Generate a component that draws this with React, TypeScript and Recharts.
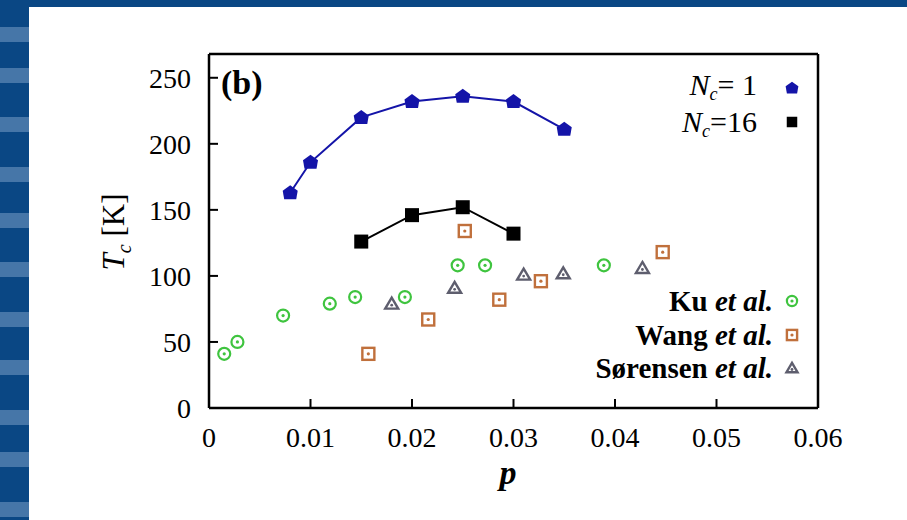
import React from 'react';
import { ScatterChart, Scatter, XAxis, YAxis, Legend, Label } from 'recharts';

// ---- data ----
const nc1P = [0.008, 0.01, 0.015, 0.02, 0.025, 0.03, 0.035];
const nc1T = [163, 186, 220, 232, 236, 232, 211];
const nc16P = [0.015, 0.02, 0.025, 0.03];
const nc16T = [126, 146, 152, 132];
const kuP = [0.0015, 0.0028, 0.0073, 0.0119, 0.0144, 0.0193, 0.0245, 0.0272, 0.0389];
const kuT = [41, 50, 70, 79, 84, 84, 108, 108, 108];
const wangP = [0.0157, 0.0216, 0.0252, 0.0286, 0.0327, 0.0447];
const wangT = [41, 67, 134, 82, 96, 118];
const sorP = [0.018, 0.0242, 0.031, 0.0349, 0.0427];
const sorT = [79, 91, 101, 102, 106];
const xTicks = [0, 0.01, 0.02, 0.03, 0.04, 0.05, 0.06];
const yTicks = [0, 50, 100, 150, 200, 250];
const legendLabels = ['Ku', 'Wang', 'Sørensen'];

const zip = (ps: number[], ts: number[]) => ps.map((p, i) => ({ p, t: ts[i] }));
const nc1Data = zip(nc1P, nc1T);
const nc16Data = zip(nc16P, nc16T);
const kuData = zip(kuP, kuT);
const wangData = zip(wangP, wangT);
const sorData = zip(sorP, sorT);

// ---- styles ----
const SERIF = "'Liberation Serif', 'Times New Roman', serif";
const BLUE = '#1414a8';
const GREEN = '#3fc43f';
const ORANGE = '#c0703c';
const GREY = '#5e5e6e';
const STRIPE_DARK = '#0a4784';
const STRIPE_LIGHT = '#4676a8';
const stripeTops = [27, 68, 117, 167, 213, 262, 312, 360, 410, 452, 502];

// ---- marker shapes ----
const Pentagon = ({ cx, cy, s = 1 }: any) => (
  <polygon
    points={`${cx},${cy - 7.5 * s} ${cx + 7.5 * s},${cy - 2 * s} ${cx + 6 * s},${cy + 6.5 * s} ${cx - 6 * s},${cy + 6.5 * s} ${cx - 7.5 * s},${cy - 2 * s}`}
    fill={BLUE}
  />
);
const FilledSquare = ({ cx, cy, s = 1 }: any) => (
  <rect x={cx - 7 * s} y={cy - 7 * s} width={14 * s} height={14 * s} fill="#000" />
);
const DotCircle = ({ cx, cy, s = 1 }: any) => (
  <g>
    <circle cx={cx} cy={cy} r={6 * s} fill="none" stroke={GREEN} strokeWidth={2.2} />
    <circle cx={cx} cy={cy} r={1.6} fill={GREEN} />
  </g>
);
const DotSquare = ({ cx, cy, s = 1 }: any) => (
  <g>
    <rect x={cx - 6 * s} y={cy - 6 * s} width={12 * s} height={12 * s} fill="none" stroke={ORANGE} strokeWidth={2.4} />
    <circle cx={cx} cy={cy} r={1.6} fill={ORANGE} />
  </g>
);
const Triangle = ({ cx, cy, s = 1 }: any) => (
  <g>
    <polygon
      points={`${cx},${cy - 6 * s} ${cx + 6.5 * s},${cy + 5 * s} ${cx - 6.5 * s},${cy + 5 * s}`}
      fill="none"
      stroke={GREY}
      strokeWidth={2.4}
    />
    <circle cx={cx} cy={cy + 1.5} r={1.4} fill={GREY} />
  </g>
);

const legendContent = () => (
  <svg width={907} height={520} style={{ position: 'absolute', left: 0, top: 0 }}>
    <text x={221} y={94} fontFamily={SERIF} fontSize={34} fontWeight="bold" fill="#000">(b)</text>
    <text x={757} y={95} textAnchor="end" fontFamily={SERIF} fontSize={30} fill="#000">
      <tspan fontStyle="italic">N</tspan>
      <tspan fontStyle="italic" fontSize={18} dy={5}>c</tspan>
      <tspan dy={-5}>= 1</tspan>
    </text>
    <Pentagon cx={792} cy={88} s={0.85} />
    <text x={757} y={132} textAnchor="end" fontFamily={SERIF} fontSize={30} fill="#000">
      <tspan fontStyle="italic">N</tspan>
      <tspan fontStyle="italic" fontSize={18} dy={5}>c</tspan>
      <tspan dy={-5}>=16</tspan>
    </text>
    <FilledSquare cx={792} cy={122} s={0.75} />
    {legendLabels.map((name, i) => {
      const y = [311, 345, 378][i];
      const M = [DotCircle, DotSquare, Triangle][i];
      return (
        <g key={name}>
          <text x={773} y={y} textAnchor="end" fontFamily={SERIF} fontSize={29} fontWeight="bold" fill="#000">
            {name + ' '}
            <tspan fontStyle="italic">et al.</tspan>
          </text>
          <M cx={792} cy={y - 10} s={0.85} />
        </g>
      );
    })}
  </svg>
);

const YLabel = () => (
  <text x={124} y={232} transform="rotate(-90 124 232)" textAnchor="middle" fontFamily={SERIF} fontSize={31} fill="#000">
    <tspan fontStyle="italic">T</tspan>
    <tspan fontStyle="italic" fontSize={20} dy={7}>c</tspan>
    <tspan dy={-7}> [K]</tspan>
  </text>
);
const XLabel = () => (
  <text x={508} y={484} textAnchor="middle" fontFamily={SERIF} fontSize={34} fontStyle="italic" fontWeight="bold" fill="#000">p</text>
);

const tickStyle = { fill: '#000', fontSize: 28, fontFamily: SERIF };
const axisLine = { stroke: '#000', strokeWidth: 2.5 };
const tickLine = { stroke: '#000', strokeWidth: 2 };

export default function App() {
  return (
    <div style={{ position: 'absolute', left: 0, top: 0, width: 907, height: 520, background: '#fff', overflow: 'hidden' }}>
      <div style={{ position: 'absolute', left: 0, top: 0, width: 907, height: 7, background: STRIPE_DARK }} />
      <div style={{ position: 'absolute', left: 0, top: 0, width: 29, height: 520, background: STRIPE_DARK }} />
      {stripeTops.map((t) => (
        <div key={t} style={{ position: 'absolute', left: 0, top: t, width: 29, height: 15, background: STRIPE_LIGHT }} />
      ))}
      <div style={{ position: 'absolute', left: 0, top: 0 }}>
        <ScatterChart width={907} height={520} margin={{ top: 49, right: 84, bottom: 72, left: 149 }}>
          <XAxis
            type="number"
            dataKey="p"
            domain={[0, 0.06]}
            ticks={xTicks}
            tickFormatter={(v: number) => String(v)}
            tick={tickStyle}
            tickSize={-9}
            tickMargin={28}
            height={40}
            axisLine={axisLine}
            tickLine={tickLine}
            allowDataOverflow
          >
            <Label content={<XLabel />} />
          </XAxis>
          <XAxis
            xAxisId="top"
            orientation="top"
            type="number"
            dataKey="p"
            domain={[0, 0.06]}
            ticks={xTicks}
            tick={false}
            tickSize={-9}
            height={5}
            axisLine={axisLine}
            tickLine={tickLine}
            allowDataOverflow
          />
          <YAxis
            type="number"
            dataKey="t"
            domain={[0, 268]}
            ticks={yTicks}
            tick={tickStyle}
            tickSize={-9}
            tickMargin={27}
            width={60}
            axisLine={axisLine}
            tickLine={tickLine}
            allowDataOverflow
          >
            <Label content={<YLabel />} />
          </YAxis>
          <YAxis
            yAxisId="right"
            orientation="right"
            type="number"
            dataKey="t"
            domain={[0, 268]}
            ticks={yTicks}
            tick={false}
            tickSize={-9}
            width={5}
            axisLine={axisLine}
            tickLine={tickLine}
            allowDataOverflow
          />
          <Legend
            layout="vertical"
            align="center"
            verticalAlign="middle"
            content={legendContent}
            wrapperStyle={{ position: 'absolute', left: 0, top: 0, width: 907, height: 520, pointerEvents: 'none' }}
          />
          <Scatter name="Sørensen" data={sorData} shape={(p: any) => <Triangle cx={p.cx} cy={p.cy} />} isAnimationActive={false} />
          <Scatter name="Wang" data={wangData} shape={(p: any) => <DotSquare cx={p.cx} cy={p.cy} />} isAnimationActive={false} />
          <Scatter name="Ku" data={kuData} shape={(p: any) => <DotCircle cx={p.cx} cy={p.cy} />} isAnimationActive={false} />
          <Scatter
            name="Nc16"
            data={nc16Data}
            line={{ stroke: '#000', strokeWidth: 2 }}
            lineType="joint"
            shape={(p: any) => <FilledSquare cx={p.cx} cy={p.cy} />}
            isAnimationActive={false}
          />
          <Scatter
            name="Nc1"
            data={nc1Data}
            line={{ stroke: BLUE, strokeWidth: 2 }}
            lineType="joint"
            shape={(p: any) => <Pentagon cx={p.cx} cy={p.cy} />}
            isAnimationActive={false}
          />
        </ScatterChart>
      </div>
    </div>
  );
}
